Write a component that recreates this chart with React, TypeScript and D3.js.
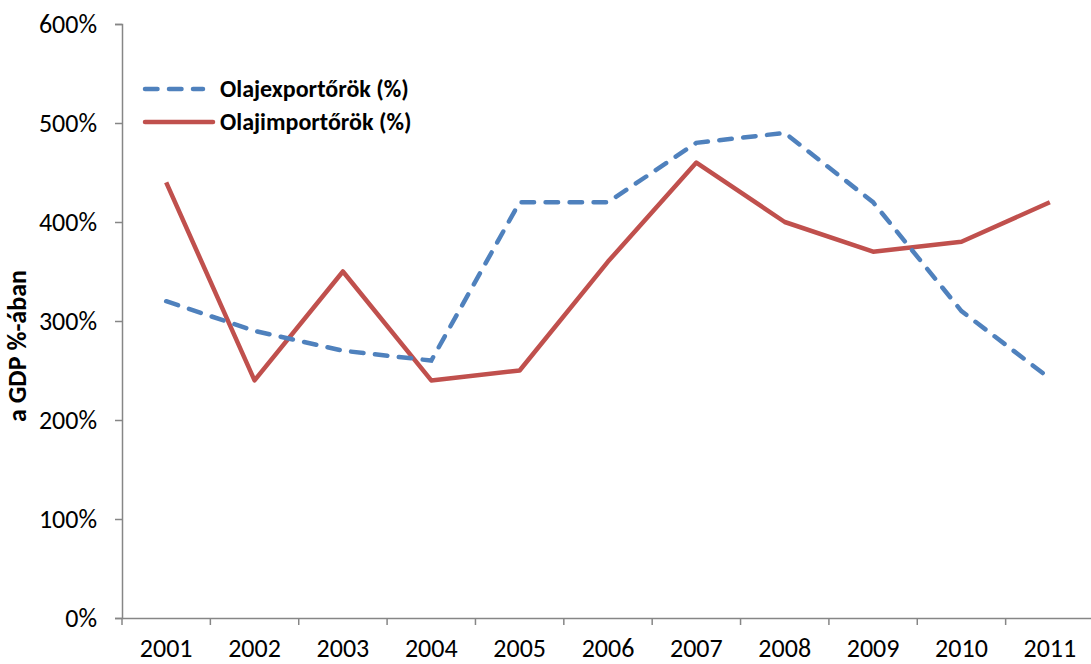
import { useRef, useEffect } from "react";
import * as d3 from "d3";

const years = ["2001", "2002", "2003", "2004", "2005", "2006", "2007", "2008", "2009", "2010", "2011"];
const exporters = [320, 290, 270, 260, 420, 420, 480, 490, 420, 310, 242];
const importers = [440, 240, 350, 240, 250, 360, 460, 400, 370, 380, 420];
const yTicks = [0, 100, 200, 300, 400, 500, 600];
const seriesNames = ["Olajexportőrök (%)", "Olajimportőrök (%)"];

const App = () => {
  const svgRef = useRef<SVGSVGElement | null>(null);
  const width = 1091;
  const height = 664;
  const margin = { top: 24, right: -3, bottom: 46, left: 122 };

  useEffect(() => {
    if (!svgRef.current) return;
    const svg = d3.select(svgRef.current);
    svg.selectAll("*").remove();

    const font = "Carlito, Calibri, 'Open Sans', sans-serif";
    const x = d3.scaleBand().domain(years).range([margin.left, width - margin.right]);
    const y = d3.scaleLinear().domain([0, 600]).range([height - margin.bottom, margin.top]);
    const axisColor = "#868686";

    // y axis
    const yAxis = svg.append("g")
      .attr("transform", `translate(${margin.left},0)`)
      .call(d3.axisLeft(y).tickValues(yTicks).tickSize(7).tickPadding(18).tickFormat(d => `${d}%`));
    yAxis.select(".domain").attr("stroke", axisColor).attr("stroke-width", 1.5);
    yAxis.selectAll(".tick line").attr("stroke", axisColor).attr("stroke-width", 1.5);
    yAxis.selectAll(".tick text").attr("font-family", font).attr("font-size", 26).attr("fill", "#000");

    // x axis
    const xAxis = svg.append("g")
      .attr("transform", `translate(0,${y(0)})`)
      .call(d3.axisBottom(x).tickSize(0).tickPadding(21));
    xAxis.select(".domain").attr("stroke", axisColor).attr("stroke-width", 1.5);
    xAxis.selectAll(".tick text").attr("font-family", font).attr("font-size", 26).attr("fill", "#000");
    xAxis.selectAll(".boundary")
      .data(d3.range(years.length + 1))
      .enter()
      .append("line")
      .attr("x1", i => margin.left + i * x.step())
      .attr("x2", i => margin.left + i * x.step())
      .attr("y1", 0)
      .attr("y2", 7)
      .attr("stroke", axisColor)
      .attr("stroke-width", 1.5);

    // axis title
    svg.append("text")
      .attr("transform", `translate(26,346) rotate(-90)`)
      .attr("text-anchor", "middle")
      .attr("font-family", font)
      .attr("font-size", 26)
      .attr("font-weight", "bold")
      .text("a GDP %-ában");

    const line = d3.line<number>()
      .x((_, i) => (x(years[i]) || 0) + x.bandwidth() / 2)
      .y(d => y(d));

    svg.append("path")
      .datum(importers)
      .attr("d", line)
      .attr("fill", "none")
      .attr("stroke", "#C0504D")
      .attr("stroke-width", 4.5)
      .attr("stroke-linejoin", "round");

    svg.append("path")
      .datum(exporters)
      .attr("d", line)
      .attr("fill", "none")
      .attr("stroke", "#4F81BD")
      .attr("stroke-width", 4.5)
      .attr("stroke-dasharray", "12.5 11.5")
      .attr("stroke-linecap", "round");

    // legend
    const legend = svg.append("g");
    const items = [
      { name: seriesNames[0], color: "#4F81BD", dash: "12.5 11.5", yPos: 89, x2: 203 },
      { name: seriesNames[1], color: "#C0504D", dash: null, yPos: 122, x2: 213 },
    ];
    items.forEach(it => {
      legend.append("line")
        .attr("x1", 145).attr("x2", it.x2)
        .attr("y1", it.yPos).attr("y2", it.yPos)
        .attr("stroke", it.color)
        .attr("stroke-width", 4.5)
        .attr("stroke-linecap", "round")
        .attr("stroke-dasharray", it.dash);
      legend.append("text")
        .attr("x", 220)
        .attr("y", it.yPos + 8)
        .attr("font-family", font)
        .attr("font-size", 24)
        .attr("font-weight", "bold")
        .text(it.name);
    });
  }, []);

  return (
    <svg
      ref={svgRef}
      width={width}
      height={height}
      style={{ position: "absolute", left: 0, top: 0, background: "#fff" }}
    ></svg>
  );
};

export default App;
